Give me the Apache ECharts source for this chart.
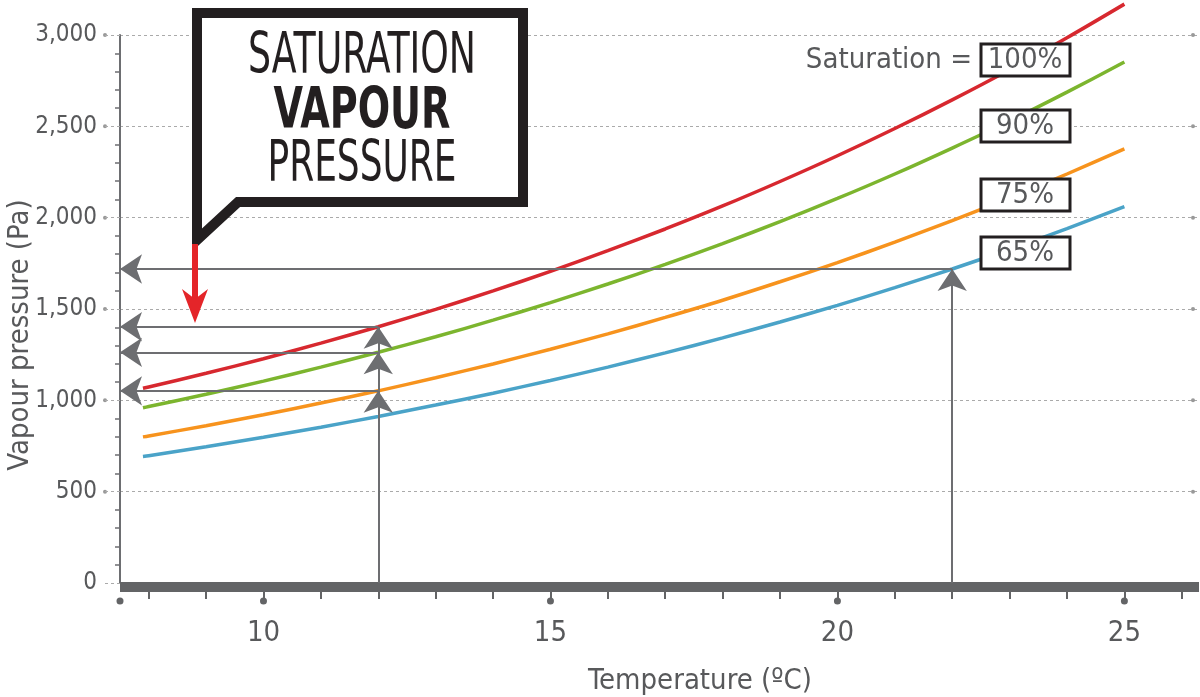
<!DOCTYPE html>
<html>
<head>
<meta charset="utf-8">
<script src="https://cdn.jsdelivr.net/npm/echarts@6/dist/echarts.min.js"></script>
<style>
  html, body { margin: 0; padding: 0; background: #fff; }
  #chart { width: 1200px; height: 697px; }
</style>
</head>
<body>
<div id="chart"></div>
<script>
const FONT = "'Liberation Sans Narrow', 'DejaVu Sans Condensed', 'Roboto Condensed', sans-serif";
const TEXT = '#58595b';
const AXIS = '#636466';

// temperature (ºC) and vapour pressure (Pa)
const temps = [7.9, 8, 9, 10, 11, 12, 13, 14, 15, 16, 17, 18, 19, 20, 21, 22, 23, 24, 25];
const sat100 = [1066, 1073, 1148, 1228, 1313, 1403, 1498, 1599, 1706, 1819, 1938, 2064, 2198, 2339, 2488, 2645, 2810, 2985, 3169];
const sat90 = [959, 966, 1033, 1105, 1182, 1263, 1348, 1439, 1535, 1637, 1744, 1858, 1978, 2105, 2239, 2381, 2529, 2687, 2852];
const sat75 = [800, 805, 861, 921, 985, 1052, 1124, 1199, 1280, 1364, 1454, 1548, 1649, 1754, 1866, 1984, 2108, 2239, 2377];
const sat65 = [693, 697, 746, 798, 853, 912, 974, 1039, 1109, 1182, 1260, 1342, 1429, 1520, 1617, 1719, 1827, 1940, 2060];

const satLabels = ['100%', '90%', '75%', '65%'];
const satColors = ['#d7282f', '#7cb52e', '#f7931d', '#4aa3c8'];

// guide arrows: read a temperature up to a curve, then across to the axis
const guideTemps = [12, 12, 12, 22];
const guideValues = [1403, 1263, 1052, 1719];

const xLabelTicks = [10, 15, 20, 25];
const xMinorTicks = [8, 9, 10, 11, 12, 13, 14, 15, 16, 17, 18, 19, 20, 21, 22, 23, 24, 25, 26];
const xDotTicks = [7.5, 10, 15, 20, 25];
const yTicks = [500, 1000, 1500, 2000, 2500, 3000];

function zip(xs, ys) {
    return xs.map((x, i) => [x, ys[i]]);
}

function fitScale(text, font, target) {
    const ctx = document.createElement('canvas').getContext('2d');
    ctx.font = font;
    return target / ctx.measureText(text).width;
}

function guideLines() {
    const out = [];
    guideTemps.forEach((t, i) => {
        out.push({ coords: [[t, guideValues[i]], [7.5, guideValues[i]]] });
    });
    [...new Set(guideTemps)].forEach(t => {
        const vals = guideValues.filter((v, i) => guideTemps[i] === t).sort((a, b) => a - b);
        let prev = 0;
        vals.forEach(v => {
            out.push({ coords: [[t, prev], [t, v]] });
            prev = v;
        });
    });
    return out;
}

const chart = echarts.init(document.getElementById('chart'));

const curveSeries = [sat100, sat90, sat75, sat65].map((vals, i) => ({
    name: satLabels[i],
    type: 'line',
    data: zip(temps, vals),
    smooth: 0.3,
    symbol: 'none',
    clip: false,
    lineStyle: { color: satColors[i], width: 3.5 },
    z: 3,
}));

chart.setOption({
    animation: false,
    grid: { left: 120, right: 1, top: 35, bottom: 114 },
    xAxis: {
        type: 'value',
        min: 7.5,
        max: 26.3,
        offset: 4,
        axisLine: { onZero: false, lineStyle: { color: AXIS, width: 10, cap: 'butt' } },
        axisTick: { customValues: xMinorTicks, length: 12, lineStyle: { color: AXIS, width: 2 } },
        axisLabel: { customValues: xLabelTicks, fontSize: 29, color: TEXT, fontFamily: FONT, margin: 32 },
        splitLine: { show: false },
    },
    yAxis: {
        type: 'value',
        min: 0,
        max: 3000,
        interval: 500,
        axisLine: { show: true, lineStyle: { color: '#6d6e71', width: 2 } },
        axisTick: { show: true, length: 16, lineStyle: { color: '#aaa', type: [3, 3], width: 1 } },
        minorTick: { show: true, splitNumber: 5, length: 5, lineStyle: { color: '#6d6e71', width: 1.5 } },
        axisLabel: {
            fontSize: 24, color: TEXT, fontFamily: FONT, margin: 23,
            formatter: v => v.toLocaleString('en-US'),
        },
        splitLine: { lineStyle: { color: '#aaa', type: [3, 3], width: 1 } },
    },
    series: [
        ...curveSeries,
        {
            type: 'lines',
            coordinateSystem: 'cartesian2d',
            data: guideLines(),
            symbol: ['none', 'arrow'],
            symbolSize: [15, 22],
            lineStyle: { color: '#6d6e71', width: 2, opacity: 1 },
            z: 4,
        },
    ],
});

// decorations drawn after the grid is known
const dots = [];
yTicks.forEach(v => {
    const y = chart.convertToPixel({ yAxisIndex: 0 }, v);
    dots.push({ type: 'circle', shape: { cx: 105, cy: y, r: 2 }, style: { fill: '#999' } });
    dots.push({ type: 'circle', shape: { cx: 1193, cy: y, r: 2 }, style: { fill: '#999' } });
});
xDotTicks.forEach(t => {
    const x = chart.convertToPixel({ xAxisIndex: 0 }, t);
    dots.push({ type: 'circle', shape: { cx: x, cy: 601, r: 3.5 }, style: { fill: AXIS } });
});

const calloutFont = (w) => `${w} 57px ${FONT}`;
const callout = [
    { text: 'SATURATION', weight: 'normal', y: 58, w: 228 },
    { text: 'VAPOUR', weight: 'bold', y: 113, w: 177 },
    { text: 'PRESSURE', weight: 'normal', y: 166, w: 189 },
].map(c => ({
    type: 'text',
    x: 362,
    y: c.y,
    scaleX: fitScale(c.text, calloutFont(c.weight), c.w),
    style: {
        text: c.text, font: calloutFont(c.weight), fill: '#231f20',
        align: 'center', verticalAlign: 'middle',
    },
    z: 11,
}));

const boxY = [60, 126, 195, 253];
const boxes = [];
satLabels.forEach((lab, i) => {
    boxes.push({
        type: 'rect',
        shape: { x: 981, y: boxY[i] - 16, width: 89, height: 32 },
        style: { fill: '#fff', stroke: '#231f20', lineWidth: 3 },
        z: 10,
    });
    boxes.push({
        type: 'text',
        x: 1025,
        y: boxY[i],
        style: { text: lab, font: `29px ${FONT}`, fill: TEXT, align: 'center', verticalAlign: 'middle' },
        z: 11,
    });
});

chart.setOption({
    graphic: [
        ...dots,
        {
            type: 'polygon',
            shape: { points: [[197, 240], [197, 13], [523, 13], [523, 202], [238, 202]] },
            style: { fill: '#fff', stroke: '#231f20', lineWidth: 10, lineJoin: 'miter' },
            z: 10,
        },
        ...callout,
        {
            type: 'line',
            shape: { x1: 195, y1: 244, x2: 195, y2: 300 },
            style: { stroke: '#e42529', lineWidth: 6 },
            z: 10,
        },
        {
            type: 'polygon',
            shape: { points: [[195, 323], [182, 289], [195, 299], [208, 289]] },
            style: { fill: '#e42529' },
            z: 10,
        },
        {
            type: 'text',
            x: 972,
            y: 60,
            style: { text: 'Saturation =', font: `29px ${FONT}`, fill: TEXT, align: 'right', verticalAlign: 'middle' },
            z: 11,
        },
        ...boxes,
        {
            type: 'text',
            x: 700,
            y: 681,
            style: { text: 'Temperature (ºC)', font: `29px ${FONT}`, fill: TEXT, align: 'center', verticalAlign: 'middle' },
        },
        {
            type: 'text',
            x: 20,
            y: 335,
            rotation: Math.PI / 2,
            style: { text: 'Vapour pressure (Pa)', font: `29px ${FONT}`, fill: TEXT, align: 'center', verticalAlign: 'middle' },
        },
    ],
});
</script>
</body>
</html>
